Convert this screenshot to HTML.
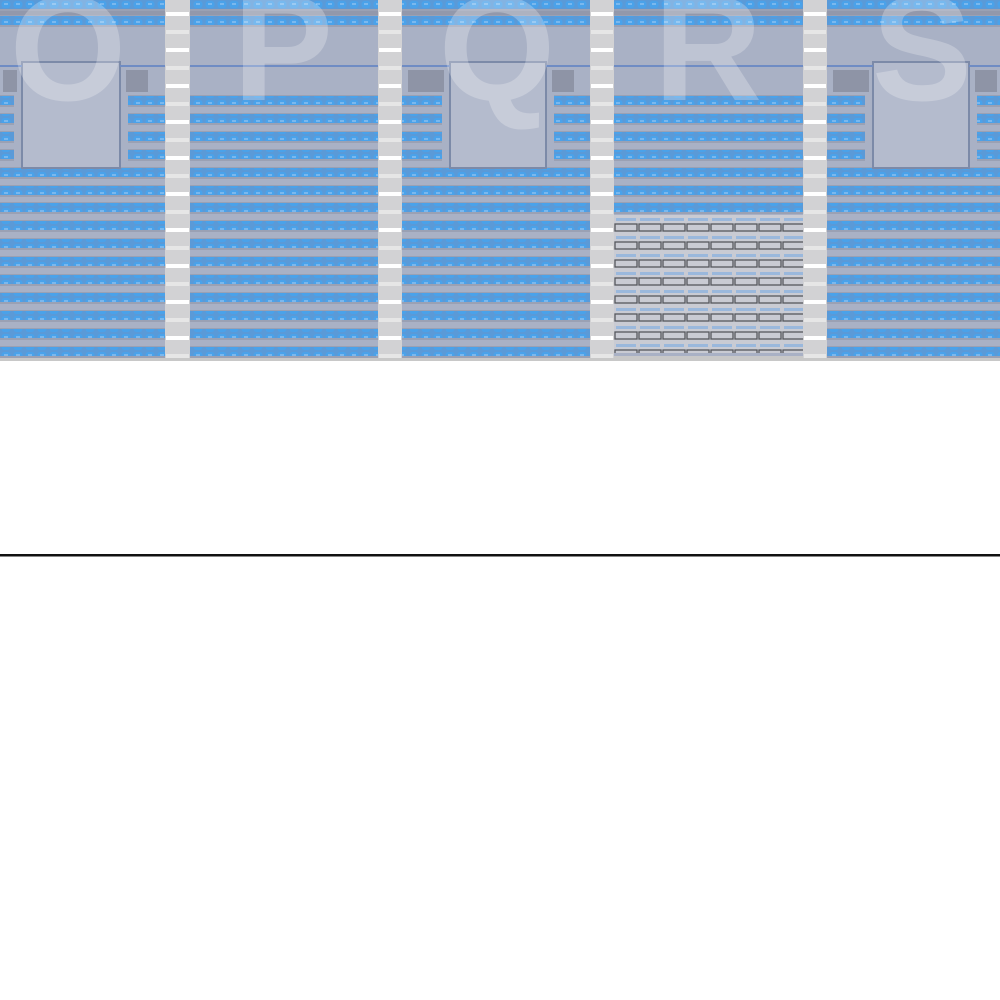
<!DOCTYPE html>
<html><head><meta charset="utf-8"><style>
html,body{margin:0;padding:0;background:#fff;width:1000px;height:1000px;overflow:hidden}
</style></head><body>
<svg width="1000" height="1000" xmlns="http://www.w3.org/2000/svg">
<defs>
<pattern id="seat" x="0" y="0" width="12" height="9" patternUnits="userSpaceOnUse">
<rect width="12" height="9" fill="#5a9ad8"/>
<rect x="1.5" y="1" width="9" height="7" rx="3" fill="#4aa2ea"/>
<rect x="4" y="3" width="4" height="2" fill="#7ab8ee"/>
</pattern>
<pattern id="grid" x="614" y="216" width="24" height="18" patternUnits="userSpaceOnUse">
<rect width="24" height="18" fill="#c9cbd3"/>
<rect x="1" y="8" width="22" height="7" fill="none" stroke="#55575c" stroke-width="1.3"/>
<rect x="2" y="2" width="20" height="3" fill="#9ab8dc"/>
</pattern>
</defs>
<rect x="0" y="0" width="1000" height="360" fill="#a9b1c5"/>
<rect x="0" y="8" width="1000" height="12" fill="#9298ab"/>
<rect x="0" y="356" width="1000" height="5" fill="#c8c8c8"/>
<g id="rows"></g>
<g fill="#b4bbcd" stroke="#7c8aa8" stroke-width="2">
<rect x="22" y="62" width="98" height="106"/>
<rect x="450" y="62" width="96" height="106"/>
<rect x="873" y="62" width="96" height="106"/>
</g>
<g stroke-width="2">
<path d="M0 66 H22 M120 66 H165 M190 66 H378 M402 66 H450 M546 66 H590 M614 66 H803 M827 66 H873 M969 66 H1000" stroke="#6f8cc4"/>
</g>
<g fill="#8e94a6">
<rect x="3" y="70" width="14" height="22"/><rect x="126" y="70" width="22" height="22"/>
<rect x="408" y="70" width="36" height="22"/><rect x="552" y="70" width="22" height="22"/>
<rect x="833" y="70" width="36" height="22"/><rect x="975" y="70" width="22" height="22"/>
</g>
<rect x="614" y="215" width="189" height="138" fill="url(#grid)"/>
<g id="aisles"></g>
<g font-family="Liberation Sans, sans-serif" font-weight="bold" font-size="150" fill="#ffffff" fill-opacity="0.25" text-anchor="middle">
<text x="68" y="100">O</text>
<text x="283" y="100">P</text>
<text x="497" y="100">Q</text>
<text x="708" y="100">R</text>
<text x="922" y="100">S</text>
</g>
<rect x="0" y="554" width="1000" height="2.5" fill="#111"/>
</svg>
<script>
var ns="http://www.w3.org/2000/svg";
var rows=document.getElementById('rows');
function r(x,y,w,h,f){var e=document.createElementNS(ns,'rect');e.setAttribute('x',x);e.setAttribute('y',y);e.setAttribute('width',w);e.setAttribute('height',h);e.setAttribute('fill',f);rows.appendChild(e);return e;}
var secs=[[0,165],[190,378],[402,590],[614,803],[827,1000]];
var suites=[[22,120],[450,546],[873,969]];
var ys=[0,16];for(var y=96;y<350;y+=17.9)ys.push(Math.round(y));
ys.forEach(function(y){
 secs.forEach(function(s,i){
  if(i==3&&y>212)return;
  if((i==1||i==3)&&y<90&&y>30)return;
  var segs=[[s[0],s[1]]];
  if(y>90&&y<165){suites.forEach(function(su){if(su[0]>=s[0]-30&&su[1]<=s[1]+30){segs=[];if(su[0]-8>s[0])segs.push([s[0],su[0]-8]);if(su[1]+8<s[1])segs.push([su[1]+8,s[1]]);}});}
  segs.forEach(function(g){r(g[0],y-1,g[1]-g[0],12,'#9aa1b4');r(g[0],y,g[1]-g[0],9,'url(#seat)');});
 });
});
var ai=document.getElementById('aisles');
[[165,190],[378,402],[590,614],[803,827]].forEach(function(a){
 var e=document.createElementNS(ns,'rect');e.setAttribute('x',a[0]);e.setAttribute('y',0);e.setAttribute('width',a[1]-a[0]);e.setAttribute('height',358);e.setAttribute('fill','#d2d2d4');ai.appendChild(e);
 for(var y=12,k=0;y<355;y+=18,k++){var d=document.createElementNS(ns,'rect');d.setAttribute('x',a[0]+1);d.setAttribute('y',y);d.setAttribute('width',a[1]-a[0]-2);d.setAttribute('height',4);d.setAttribute('fill',k%2?'#e6e6e6':'#ffffff');ai.appendChild(d);}
});
</script>
</body></html>
